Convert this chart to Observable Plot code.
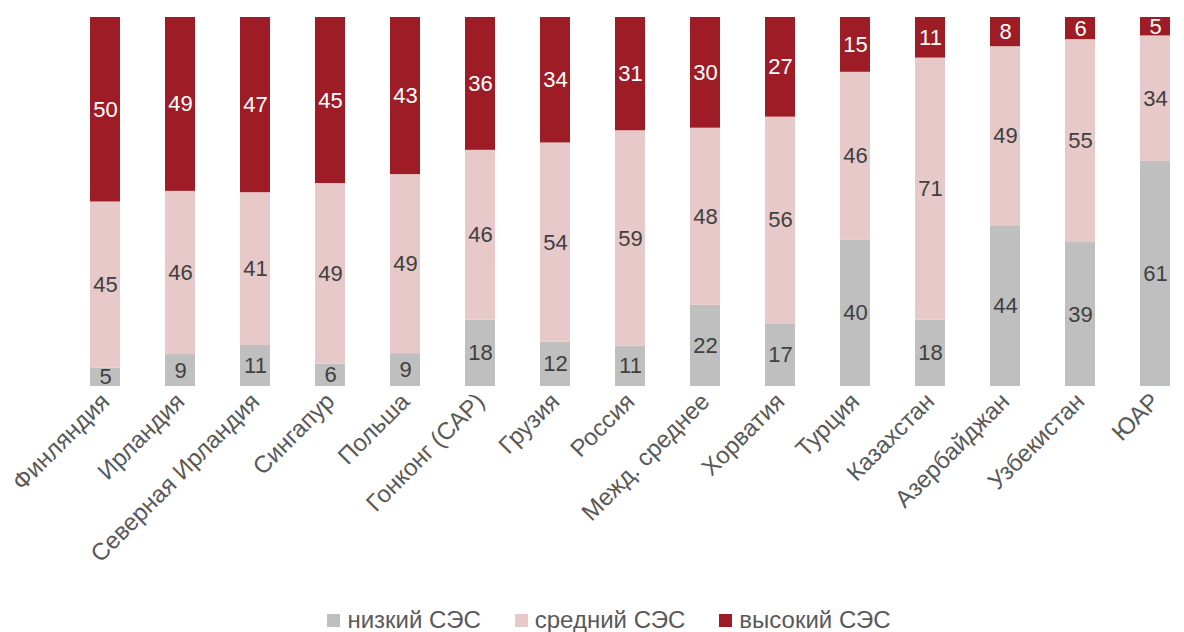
<!DOCTYPE html>
<html>
<head>
<meta charset="utf-8">
<script src="https://cdn.jsdelivr.net/npm/d3@7"></script>
<script src="https://cdn.jsdelivr.net/npm/@observablehq/plot@0.6"></script>
<style>
  html, body { margin: 0; padding: 0; background: #fff; }
  body { width: 1184px; height: 632px; overflow: hidden; font-family: "Liberation Sans", Arial, sans-serif; }
  #legend { display: flex; justify-content: center; align-items: center; height: 26px; font-size: 24px; color: #595959; padding-left: 34px; }
  .item { display: flex; align-items: center; margin: 0 17px; }
  .sw { width: 13px; height: 13px; margin-right: 7px; }
</style>
</head>
<body>
<div id="chart"></div>
<div id="legend"></div>
<script>
const categories = ["Финляндия", "Ирландия", "Северная Ирландия", "Сингапур", "Польша", "Гонконг (САР)", "Грузия", "Россия", "Межд. среднее", "Хорватия", "Турция", "Казахстан", "Азербайджан", "Узбекистан", "ЮАР"];
const seriesNames = ["низкий СЭС", "средний СЭС", "высокий СЭС"];
const low  = [5, 9, 11, 6, 9, 18, 12, 11, 22, 17, 40, 18, 44, 39, 61];
const mid  = [45, 46, 41, 49, 49, 46, 54, 59, 48, 56, 46, 71, 49, 55, 34];
const high = [50, 49, 47, 45, 43, 36, 34, 31, 30, 27, 15, 11, 8, 6, 5];
const colors = ["#bfbfbf", "#e8c9ca", "#9e1c25"];

// Build a normalized (100%) stacked table from the arrays
const series = [low, mid, high];
const data = [];
categories.forEach((c, i) => {
  const total = series.reduce((a, vals) => a + vals[i], 0);
  let acc = 0;
  series.forEach((vals, s) => {
    const y1 = acc / total;
    acc += vals[i];
    const y2 = acc / total;
    data.push({cat: c, s: seriesNames[s], v: vals[i], y1, y2, ym: (y1 + y2) / 2});
  });
});

const chart = Plot.plot({
  width: 1184,
  height: 607,
  marginTop: 17,
  marginBottom: 221,
  marginLeft: 65,
  marginRight: 0,
  style: {fontFamily: "'Liberation Sans', Arial, sans-serif", background: "#fff"},
  x: {domain: categories, range: [65.4, 1194.6], paddingInner: 0.6, paddingOuter: 0.3, label: null, tickSize: 0, tickPadding: 11, tickRotate: -45},
  y: {axis: null, domain: [0, 1]},
  color: {domain: seriesNames, range: colors},
  marks: [
    Plot.barY(data, {x: "cat", y1: "y1", y2: "y2", fill: "s"}),
    Plot.ruleY([0], {stroke: "#d9d9d9", strokeWidth: 2, x1: 65, x2: 1184}),
    Plot.text(data.filter(d => d.s !== seriesNames[2]), {x: "cat", y: "ym", text: "v", fill: "#404040", fontSize: 22}),
    Plot.text(data.filter(d => d.s === seriesNames[2]), {x: "cat", y: "ym", text: "v", fill: "#ffffff", fontSize: 22})
  ]
});
d3.select(chart).selectAll("g[aria-label='x-axis tick label']").attr("font-size", 24).attr("fill", "#595959");
document.getElementById("chart").appendChild(chart);

const legend = d3.select("#legend");
seriesNames.forEach((n, i) => {
  const it = legend.append("div").attr("class", "item");
  it.append("div").attr("class", "sw").style("background", colors[i]);
  it.append("span").text(n);
});
</script>
</body>
</html>
